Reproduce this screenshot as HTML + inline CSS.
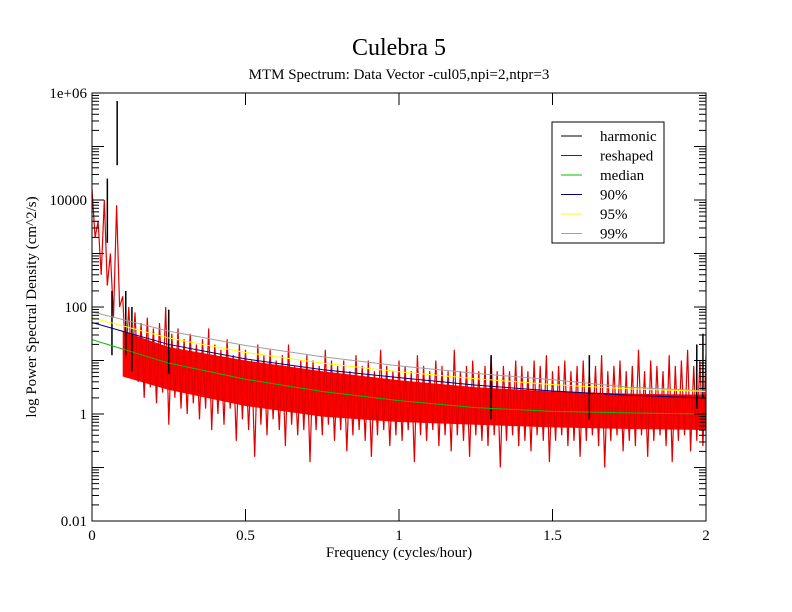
<!DOCTYPE html>
<html><head><meta charset="utf-8"><style>
body{margin:0;background:#fff}
svg{display:block;font-family:"Liberation Serif",serif}
</style></head><body>
<svg id="c" width="792" height="612">
<defs><clipPath id="clip"><rect x="92" y="93" width="614" height="428"/></clipPath></defs>
<text x="399" y="55" font-size="24" text-anchor="middle">Culebra 5</text>
<text x="399" y="79" font-size="15" text-anchor="middle">MTM Spectrum: Data Vector -cul05,npi=2,ntpr=3</text>
<text x="399" y="557" font-size="15" text-anchor="middle">Frequency (cycles/hour)</text>
<text transform="translate(36,307) rotate(-90)" font-size="15" text-anchor="middle">log Power Spectral Density (cm^2/s)</text>
<g id="plot" clip-path="url(#clip)"></g>
<g id="axes"></g>
<rect x="92" y="93" width="614" height="428" fill="none" stroke="#000" stroke-width="1"/>
<g>
<rect x="552" y="122" width="112" height="121" fill="#fff" stroke="#000"/>
<g id="leg"></g>
</g>
</svg>
<script>
const xTicks=[0,0.5,1,1.5,2];
const xTickLabels=["0","0.5","1","1.5","2"];
const yTicks=[-2,0,2,4,6];
const yTickLabels=["0.01","1","100","10000","1e+06"];
const binStep=0.02;
const redHi=[4.2,3.6,4.0,3.0,3.9,2.2,2.0,1.9,1.7,1.8,1.6,1.7,2.0,1.5,1.6,1.4,1.5,1.3,1.4,1.6,1.3,1.2,1.4,1.1,1.3,1.2,1.0,1.3,1.1,1.2,1.0,1.1,1.3,0.9,1.0,1.1,1.0,0.9,1.2,1.0,0.9,1.0,0.8,1.1,0.9,1.0,0.8,1.2,0.9,0.8,1.0,0.9,0.8,1.1,0.9,0.8,1.0,0.9,0.8,1.2,0.8,0.9,1.0,0.8,0.9,1.1,0.8,0.9,0.8,1.0,0.9,0.8,1.0,0.9,1.1,0.8,0.9,1.0,0.8,0.9,1.0,0.8,0.9,1.1,0.8,0.9,1.0,0.8,0.9,1.2,0.8,1.0,0.9,0.8,1.1,0.9,1.0,1.2,0.9,1.0,1.1];
const redLo=[3.3,2.6,2.4,1.8,2.0,1.0,0.8,0.6,0.3,0.5,0.2,0.4,-0.2,0.3,0.1,0.0,0.2,-0.1,0.1,-0.3,0.0,-0.2,0.1,-0.5,-0.1,-0.3,-0.8,-0.2,-0.4,-0.1,-0.3,-0.6,-0.2,-0.4,-0.3,-0.9,-0.3,-0.4,-0.2,-0.5,-0.3,-0.7,-0.4,-0.3,-0.5,-0.8,-0.4,-0.3,-0.6,-0.4,-0.5,-0.3,-0.9,-0.4,-0.5,-0.3,-0.6,-0.4,-0.7,-0.4,-0.5,-0.8,-0.4,-0.5,-0.6,-0.4,-1.0,-0.5,-0.4,-0.6,-0.5,-0.7,-0.4,-0.5,-0.9,-0.5,-0.4,-0.6,-0.5,-0.8,-0.5,-0.4,-0.6,-1.0,-0.5,-0.4,-0.7,-0.5,-0.6,-0.4,-0.8,-0.5,-0.4,-0.6,-0.9,-0.5,-0.4,-0.7,-0.5,-0.6,-0.5];
const bandF=[0.1,0.25,0.5,0.75,1,1.25,1.5,1.75,2];
const bandTop=[1.55,1.25,1.0,0.8,0.63,0.5,0.42,0.38,0.36];
const bandBot=[0.7,0.45,0.15,-0.05,-0.15,-0.2,-0.25,-0.28,-0.3];
const curveF=[0,0.25,0.5,0.75,1,1.25,1.5,1.75,2];
const median=[1.39,0.95,0.65,0.42,0.25,0.12,0.05,0.02,0.0];
const p90=[1.71,1.3,1.03,0.83,0.68,0.54,0.43,0.35,0.3];
const p95=[1.8,1.42,1.15,0.95,0.79,0.66,0.55,0.47,0.42];
const p99=[1.91,1.55,1.28,1.07,0.9,0.76,0.64,0.5,0.43];
const harmF=[0.05,0.082,0.065,0.11,0.13,0.25,1.3,1.62,1.97,1.99];
const harmV=[4.4,5.85,2.3,2.3,2.0,1.95,1.1,1.1,1.3,1.5];
const X0=92,X1=706,Y0=521,Y1=93;
const sx=f=>X0+(f-0)/(2-0)*(X1-X0);
const sy=v=>Y0-(v+2)/8*(Y0-Y1);
const NS="http://www.w3.org/2000/svg";
const plot=document.getElementById('plot'),axes=document.getElementById('axes'),leg=document.getElementById('leg');
function mk(tag,at,parent){const e=document.createElementNS(NS,tag);for(const k in at)e.setAttribute(k,at[k]);parent.appendChild(e);return e;}
const bandPts=bandF.map((f,i)=>sx(f)+","+sy(bandTop[i])).concat(bandF.map((f,i)=>sx(f)+","+sy(bandBot[i])).reverse()).join(" ");
const band=mk('polygon',{points:bandPts,fill:'#f00',stroke:'none'},plot);


let d="";
redHi.forEach((h,i)=>{const f=i*binStep;d+=(i?"L":"M")+sx(f).toFixed(1)+","+sy(h).toFixed(1);
if(i<redHi.length-1)d+="L"+sx(f+binStep/2).toFixed(1)+","+sy(redLo[i]).toFixed(1);});
const red=mk('path',{d:d,fill:'none',stroke:'#e00000','stroke-width':1.2},plot);


harmF.forEach((f,i)=>{const l=mk('line',{x1:sx(f),x2:sx(f),y1:sy(harmV[i]-1.2),y2:sy(harmV[i]),stroke:'#000','stroke-width':1.5},plot);

});
function curve(arr,col,name){const p=mk('polyline',{points:arr.map((v,i)=>sx(curveF[i])+","+sy(v)).join(" "),fill:'none',stroke:col,'stroke-width':1},plot);

}
curve(p99,'#a0a0a0','p99-curve');curve(p95,'#ffff00','p95-curve');curve(p90,'#000080','p90-curve');curve(median,'#00c000','median-curve');
xTicks.forEach((t,i)=>{const x=sx(t);
mk('line',{x1:x,x2:x,y1:Y0,y2:Y0-12,stroke:'#000'},axes);mk('line',{x1:x,x2:x,y1:Y1,y2:Y1+12,stroke:'#000'},axes);
const tx=mk('text',{x:x,y:Y0+19,'font-size':15,'text-anchor':'middle'},axes);tx.textContent=xTickLabels[i];

});
for(let dcd=-2;dcd<6;dcd++){for(let m=2;m<10;m++){const y=sy(dcd+Math.log10(m));
mk('line',{x1:X0,x2:X0+7,y1:y,y2:y,stroke:'#000'},axes);mk('line',{x1:X1,x2:X1-7,y1:y,y2:y,stroke:'#000'},axes);}
const y=sy(dcd);mk('line',{x1:X0,x2:X0+12,y1:y,y2:y,stroke:'#000'},axes);mk('line',{x1:X1,x2:X1-12,y1:y,y2:y,stroke:'#000'},axes);}
yTicks.forEach((t,i)=>{const y=sy(t);
const tx=mk('text',{x:X0-5,y:y+5,'font-size':15,'text-anchor':'end'},axes);tx.textContent=yTickLabels[i];

});
const legNames=["harmonic","reshaped","median","90%","95%","99%"];
const legCols=["#000","#a00000","#00c000","#000080","#ffff00","#a0a0a0"];
legNames.forEach((n,i)=>{const y=136+i*19.5;
mk('line',{x1:561,x2:582,y1:y,y2:y,stroke:legCols[i]},leg);
const t=mk('text',{x:600,y:y+5,'font-size':15},leg);t.textContent=n;

});
</script>
</body></html>
